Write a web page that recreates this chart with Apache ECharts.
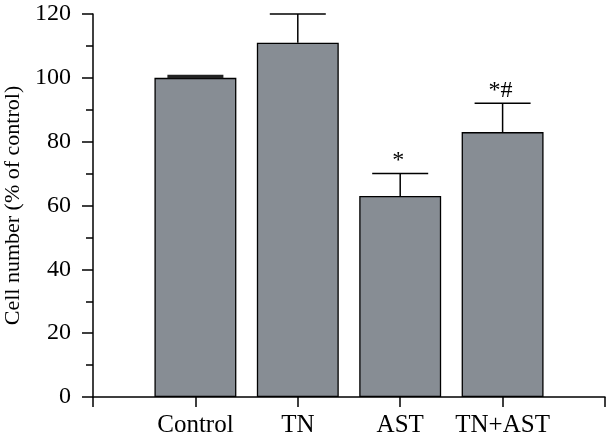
<!DOCTYPE html>
<html>
<head>
<meta charset="utf-8">
<script src="https://cdn.jsdelivr.net/npm/echarts@6/dist/echarts.min.js"></script>
<style>
html,body{margin:0;padding:0;background:#fff;}
#main{width:606px;height:439px;}
</style>
</head>
<body>
<div id="main"></div>
<script>
// Data
var categories = ['', 'Control', 'TN', 'AST', 'TN+AST', ''];
var values = ['-', 100, 111, 63, 83, '-'];
var errorTop = ['-', 100.4, 120, 70, 92, '-'];
var marks = ['', '', '', '*', '*#', ''];
var yTicks = [0, 20, 40, 60, 80, 100, 120];

var FONT = 'Liberation Serif';
var chart = echarts.init(document.getElementById('main'), null, {renderer: 'canvas'});

var errData = [];
for (var i = 0; i < categories.length; i++) {
  if (values[i] !== '-') errData.push([i, values[i], errorTop[i], marks[i]]);
}

chart.setOption({
  animation: false,
  backgroundColor: '#fff',
  grid: {left: 93, right: 1, top: 14, bottom: 42, containLabel: false, outerBoundsMode: 'none'},
  xAxis: {
    type: 'category',
    data: categories,
    boundaryGap: false,
    axisLine: {lineStyle: {color: '#000', width: 1.5}},
    axisTick: {show: true, inside: false, length: 10, alignWithLabel: true, lineStyle: {color: '#000', width: 1.5}},
    axisLabel: {color: '#000', fontFamily: FONT, fontSize: 25, margin: 16, interval: 0},
    splitLine: {show: false}
  },
  yAxis: {
    type: 'value',
    min: yTicks[0],
    max: yTicks[yTicks.length - 1],
    interval: 20,
    name: 'Cell number (% of control)',
    nameLocation: 'middle',
    nameGap: 69,
    nameTextStyle: {color: '#000', fontFamily: FONT, fontSize: 22},
    axisLine: {show: true, lineStyle: {color: '#000', width: 1.5}},
    axisTick: {show: true, length: 11, lineStyle: {color: '#000', width: 1.5}},
    minorTick: {show: true, splitNumber: 2, length: 7, lineStyle: {color: '#000', width: 1.5}},
    axisLabel: {color: '#000', fontFamily: FONT, fontSize: 24, margin: 22},
    splitLine: {show: false}
  },
  series: [
    {
      type: 'bar',
      data: values,
      barWidth: '80%',
      itemStyle: {color: '#878d94', borderColor: '#000', borderWidth: 1.3},
      z: 2
    },
    {
      type: 'custom',
      data: errData,
      z: 3,
      renderItem: function (params, api) {
        var x = api.value(0);
        var top = api.coord([x, api.value(1)]);
        var hi = api.coord([x, api.value(2)]);
        var half = 28;
        var mark = errData[params.dataIndex][3];
        var isZero = Math.abs(hi[1] - top[1]) < 3;
        var children = [
          {type: 'line', shape: {x1: hi[0], y1: top[1], x2: hi[0], y2: hi[1]}, style: {stroke: '#000', lineWidth: 1.5}},
          {type: 'line', shape: {x1: hi[0] - half, y1: hi[1], x2: hi[0] + half, y2: hi[1]}, style: {stroke: isZero ? '#222' : '#000', lineWidth: isZero ? 3.5 : 1.5}}
        ];
        if (mark) {
          children.push({
            type: 'text',
            style: {text: mark, x: hi[0] - 2, y: hi[1] - 1, textAlign: 'center', textVerticalAlign: 'bottom', fill: '#000', font: '24px ' + FONT}
          });
        }
        return {type: 'group', children: children};
      }
    }
  ]
});
</script>
</body>
</html>
